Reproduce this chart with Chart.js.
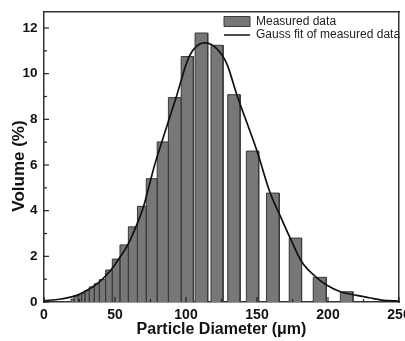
<!DOCTYPE html>
<html>
<head>
<meta charset="utf-8">
<script src="https://cdn.jsdelivr.net/npm/chart.js@4/dist/chart.umd.min.js"></script>
<style>
  html, body { margin: 0; padding: 0; background: #ffffff; }
  #wrap { width: 405px; height: 341px; }
</style>
</head>
<body>
<div id="wrap"><canvas id="c" width="405" height="341"></canvas></div>
<script>
// ---- Data ----
// Histogram bins (particle diameter, µm) and measured volume (%)
const binStart = [19.0, 21.1, 24.2, 26.5, 28.9, 31.9, 35.4, 39.0, 43.4, 48.1, 53.5, 59.4, 65.8, 72.0, 79.7, 87.6, 96.6, 106.4, 117.6, 129.4, 142.5, 156.7, 172.7, 189.6, 208.7];
const binEnd   = [21.1, 24.2, 26.5, 28.9, 31.9, 35.4, 39.0, 43.4, 48.1, 53.5, 59.4, 65.8, 72.0, 79.7, 87.6, 96.6, 105.2, 115.3, 126.1, 138.1, 151.2, 165.7, 181.4, 198.8, 217.6];
const volume   = [0.13, 0.27, 0.30, 0.37, 0.50, 0.66, 0.80, 0.98, 1.40, 1.88, 2.50, 3.29, 4.19, 5.40, 7.01, 8.95, 10.75, 11.78, 11.24, 9.08, 6.61, 4.77, 2.80, 1.08, 0.45];

// Gauss fit curve
const fitX = [0, 11, 23, 30, 39, 47, 52.4, 58.8, 64.7, 70, 75.3, 78.2, 85.6, 93, 102.3, 113, 121.6, 128.7, 135.8, 144.8, 150, 159.3, 166.5, 173.4, 181.6, 191.8, 199.3, 208.7, 220.3, 232, 239, 250];
const fitY = [0.06, 0.12, 0.29, 0.50, 0.88, 1.39, 1.86, 2.48, 3.29, 4.16, 5.40, 6.06, 7.52, 8.95, 10.76, 11.35, 11.10, 10.44, 9.08, 7.52, 6.61, 4.77, 3.75, 2.80, 1.75, 1.08, 0.73, 0.45, 0.29, 0.15, 0.07, 0.04];

const seriesLabels = ['Measured data', 'Gauss fit of measured data'];
const xTitle = 'Particle Diameter (\u03bcm)';
const yTitle = 'Volume (%)';

// ---- Build library tables ----
const barPoints = [];
binStart.forEach((s, i) => {
  barPoints.push({x: s, y: 0}, {x: s, y: volume[i]}, {x: binEnd[i], y: volume[i]}, {x: binEnd[i], y: 0});
});
const fitPoints = fitX.map((x, i) => ({x: x, y: fitY[i]}));

const FONT = "'Liberation Sans', Arial, Helvetica, sans-serif";
const FRAME = '#333333';

const frameTicks = {
  id: 'frameTicks',
  afterLayout(chart) {
    const lg = chart.legend, ca = chart.chartArea;
    if (lg) {
      const w = lg.width, h = lg.height;
      lg.left = ca.right - 176.5; lg.right = lg.left + w;
      lg.top = ca.top + 2; lg.bottom = lg.top + h;
    }
    const ys = chart.scales.y;
    if (ys && !ys._titleShifted) {
      const orig = ys.drawTitle.bind(ys);
      ys.drawTitle = function () {
        this.ctx.save();
        this.ctx.translate(0, 9);
        orig();
        this.ctx.restore();
      };
      ys._titleShifted = true;
    }
  },
  afterDatasetsDraw(chart) {
    const {ctx, chartArea: ca, scales} = chart;
    ctx.save();
    ctx.strokeStyle = '#222';
    ctx.lineWidth = 1.2;
    const marks = (scale) => {
      const t = scale.ticks.map(k => k.value);
      const out = [];
      for (let i = 0; i < t.length; i++) {
        out.push([t[i], 5]);
        if (i < t.length - 1) out.push([(t[i] + t[i + 1]) / 2, 3]);
      }
      return out;
    };
    marks(scales.x).forEach(([v, len]) => {
      const p = scales.x.getPixelForValue(v);
      ctx.beginPath(); ctx.moveTo(p, ca.bottom); ctx.lineTo(p, ca.bottom - len); ctx.stroke();
    });
    marks(scales.y).forEach(([v, len]) => {
      const p = scales.y.getPixelForValue(v);
      ctx.beginPath(); ctx.moveTo(ca.left, p); ctx.lineTo(ca.left + len, p); ctx.stroke();
    });
    ctx.restore();
  }
};

new Chart(document.getElementById('c'), {
  type: 'line',
  data: {
    datasets: [
      {
        label: seriesLabels[0],
        data: barPoints,
        xAxisID: 'x', yAxisID: 'y',
        borderColor: '#3a3a3a', borderWidth: 1,
        backgroundColor: '#777777',
        fill: 'origin', tension: 0,
        pointRadius: 0, pointHoverRadius: 0,
        pointStyle: 'rect', pointBackgroundColor: '#777777', pointBorderColor: '#3a3a3a', pointBorderWidth: 1,
        order: 1
      },
      {
        label: seriesLabels[1],
        data: fitPoints,
        xAxisID: 'x', yAxisID: 'y',
        borderColor: '#111111', borderWidth: 1.7,
        fill: false, cubicInterpolationMode: 'monotone',
        pointRadius: 0, pointHoverRadius: 0,
        pointStyle: 'line', pointBackgroundColor: '#111111', pointBorderColor: '#111111', pointBorderWidth: 1.7,
        order: 0
      }
    ]
  },
  options: {
    responsive: false,
    animation: false,
    events: [],
    layout: { padding: { top: 12, right: 6, left: 0, bottom: 0 } },
    plugins: {
      tooltip: { enabled: false },
      legend: {
        display: true,
        position: 'chartArea',
        align: 'start',
        labels: {
          usePointStyle: true,
          pointStyleWidth: 26,
          boxHeight: 10,
          padding: 1.5,
          color: '#222',
          font: { family: FONT, size: 12 },
          sort: (a, b) => a.datasetIndex - b.datasetIndex
        }
      }
    },
    scales: {
      x: {
        type: 'linear', position: 'bottom', min: 0, max: 250,
        ticks: { stepSize: 50, includeBounds: false, autoSkip: false, maxRotation: 0, padding: 4.3, color: '#111',
                 font: { family: FONT, size: 14, weight: 'bold' } },
        grid: { display: false, drawTicks: false },
        border: { display: true, color: FRAME, width: 1.5 },
        title: { display: true, text: xTitle, color: '#111', padding: { top: 0, bottom: 1.5 },
                 font: { family: FONT, size: 16, weight: 'bold' } },
        afterFit(s) { s.height = 39; s.paddingLeft = 0; s.paddingRight = 0; }
      },
      y: {
        type: 'linear', position: 'left', min: 0, max: 12.7,
        ticks: { stepSize: 2, includeBounds: false, padding: 6.5, color: '#111',
                 font: { family: FONT, size: 13.5, weight: 'bold' } },
        grid: { display: false, drawTicks: false },
        border: { display: true, color: FRAME, width: 1.5 },
        title: { display: true, text: yTitle, color: '#111', padding: { top: 9.5, bottom: 0 },
                 font: { family: FONT, size: 17, weight: 'bold' } },
        afterFit(s) { s.width = 44; s.paddingTop = 0; s.paddingBottom = 0; }
      },
      xTop: {
        type: 'linear', position: 'top', min: 0, max: 250,
        ticks: { display: false },
        grid: { display: false, drawTicks: false },
        border: { display: true, color: FRAME, width: 1.5 },
        afterFit(s) { s.height = 0; s.paddingLeft = 0; s.paddingRight = 0; }
      },
      yRight: {
        type: 'linear', position: 'right', min: 0, max: 12.7,
        ticks: { display: false },
        grid: { display: false, drawTicks: false },
        border: { display: true, color: FRAME, width: 1.5 },
        afterFit(s) { s.width = 0; s.paddingTop = 0; s.paddingBottom = 0; }
      }
    }
  },
  plugins: [frameTicks]
});
</script>
</body>
</html>
